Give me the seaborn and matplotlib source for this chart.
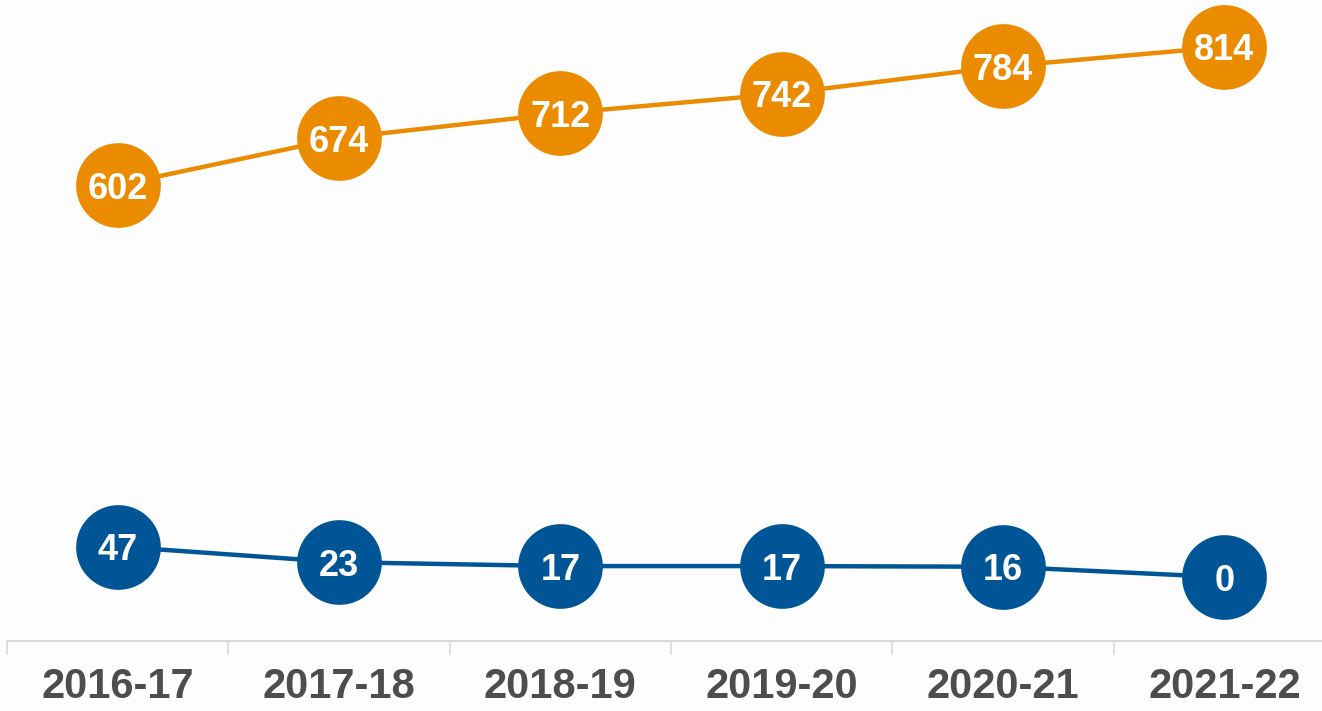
import pandas as pd
import matplotlib.pyplot as plt
import seaborn as sns

years = ['2016-17', '2017-18', '2018-19', '2019-20', '2020-21', '2021-22']
orange_values = [602, 674, 712, 742, 784, 814]
blue_values = [47, 23, 17, 17, 16, 0]

df = pd.DataFrame({
    'Year': years * 2,
    'Value': orange_values + blue_values,
    'Series': ['orange'] * len(years) + ['blue'] * len(years),
})
colors = {'orange': '#EB8C00', 'blue': '#005596'}

sns.set_style('white')
plt.rcParams['font.family'] = ['Liberation Sans', 'DejaVu Sans']

bg = '#FDFDFD'
fig = plt.figure(figsize=(13.22, 7.11), dpi=100, facecolor=bg)
ax = fig.add_axes([7 / 1322, 70 / 711, 1328 / 1322, 641 / 711])
ax.set_facecolor(bg)

sns.lineplot(data=df, x='Year', y='Value', hue='Series', palette=colors,
             marker='o', markersize=61, markeredgewidth=0, linewidth=3.2,
             legend=False, ax=ax)

# value labels inside the markers
for vals in (orange_values, blue_values):
    for i, v in enumerate(vals):
        ax.text(i, v, str(v), ha='center', va='center_baseline', color='white',
                fontsize=26, fontweight='bold')

ax.set_xlim(-0.5, 5.5)
ax.set_ylim(-98, 886)
ax.set_xlabel('')
ax.set_ylabel('')
ax.set_yticks([])

for side in ('top', 'right', 'left'):
    ax.spines[side].set_visible(False)
ax.spines['bottom'].set_color('#D9D9D9')
ax.spines['bottom'].set_linewidth(1.5)

ax.set_xticks(range(len(years)))
ax.set_xticklabels(years)
ax.set_xticks([i - 0.5 for i in range(len(years) + 1)], minor=True)
ax.tick_params(axis='x', which='major', length=0, pad=19, labelsize=30,
               labelcolor='#4D4D4D')
ax.tick_params(axis='x', which='minor', length=10, width=1.2, color='#D9D9D9',
               direction='out', bottom=True)
for lbl in ax.get_xticklabels():
    lbl.set_fontweight('bold')

fig.savefig('out.png', dpi=100, facecolor=bg)
